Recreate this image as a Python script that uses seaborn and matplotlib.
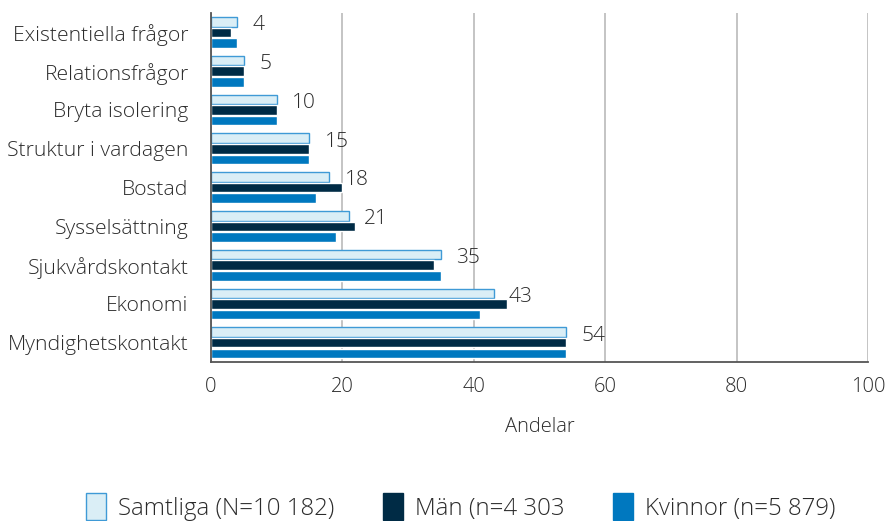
import numpy as np
import pandas as pd
import seaborn as sns
import matplotlib.pyplot as plt
from matplotlib.patches import Patch

categories = ['Existentiella frågor', 'Relationsfrågor', 'Bryta isolering',
              'Struktur i vardagen', 'Bostad', 'Sysselsättning',
              'Sjukvårdskontakt', 'Ekonomi', 'Myndighetskontakt']
groups = ['Samtliga (N=10 182)', 'Män (n=4 303', 'Kvinnor (n=5 879)']
samtliga = [4, 5, 10, 15, 18, 21, 35, 43, 54]
man = [3, 5, 10, 15, 20, 22, 34, 45, 54]
kvinnor = [4, 5, 10, 15, 16, 19, 35, 41, 54]

colors = ['#daeef6', '#002b45', '#0078bf']
edge_samtliga = '#3f9ad6'
text_col = '#2b2b2b'

df = pd.DataFrame({
    'kategori': categories * 3,
    'grupp': [groups[0]] * 9 + [groups[1]] * 9 + [groups[2]] * 9,
    'andel': samtliga + man + kvinnor,
})

sns.set_style('white')
plt.rcParams['font.family'] = ['Open Sans', 'DejaVu Sans']
plt.rcParams['font.weight'] = 'light'
plt.rcParams['axes.labelweight'] = 'light'
plt.rcParams['text.color'] = text_col

fig, ax = plt.subplots(figsize=(8.86, 5.21), dpi=100)
fig.subplots_adjust(left=0.238, right=0.98, top=0.975, bottom=0.305)

sns.barplot(data=df, x='andel', y='kategori', hue='grupp', order=categories,
            hue_order=groups, palette=colors, orient='h', width=0.82, gap=0.1,
            ax=ax, legend=False, saturation=1)

for bar in ax.containers[0]:
    bar.set_edgecolor(edge_samtliga)
    bar.set_linewidth(1.0)

# etiketter bara for Samtliga
for bar, v in zip(ax.containers[0], samtliga):
    y = bar.get_y() + bar.get_height() / 2
    ax.annotate(str(v), (v, y), xytext=(11, -2.5), textcoords='offset points',
                va='center', ha='left', fontsize=15, color=text_col)

ax.set_xlim(0, 100)
ax.set_ylim(len(categories) - 0.5, -0.5)
ax.set_xticks([0, 20, 40, 60, 80, 100])
ax.xaxis.grid(True, color='#c4c4c4', linewidth=1.4)
ax.set_axisbelow(True)

ax.set_yticks(np.arange(len(categories)))
ax.set_yticklabels(categories)
ax.set_yticks(np.arange(len(categories) + 1) - 0.5, minor=True)
ax.tick_params(axis='y', which='major', length=0, pad=16, labelsize=15.2, labelcolor=text_col)
ax.tick_params(axis='y', which='minor', length=5, width=1.3, color='#555555', direction='out')
ax.tick_params(axis='x', which='major', length=4, width=1.3, color='#555555',
               direction='in', pad=11, labelsize=14.5, labelcolor=text_col)

ax.set_xlabel('Andelar', fontsize=14.5, color=text_col, labelpad=14, fontweight='light')
ax.set_ylabel('')

for side in ['top', 'right']:
    ax.spines[side].set_visible(False)
for side in ['left', 'bottom']:
    ax.spines[side].set_color('#555555')
    ax.spines[side].set_linewidth(1.3)

handles = [Patch(facecolor=colors[0], edgecolor=edge_samtliga, linewidth=1.0),
           Patch(facecolor=colors[1], edgecolor=colors[1]),
           Patch(facecolor=colors[2], edgecolor=colors[2])]
fig.legend(handles, groups, loc='center', bbox_to_anchor=(0.52, 0.027), ncol=3,
           frameon=False, fontsize=17.3, handlelength=0.85, handleheight=1.3,
           handletextpad=0.5, columnspacing=2.0)

fig.savefig('out.png', dpi=100)
